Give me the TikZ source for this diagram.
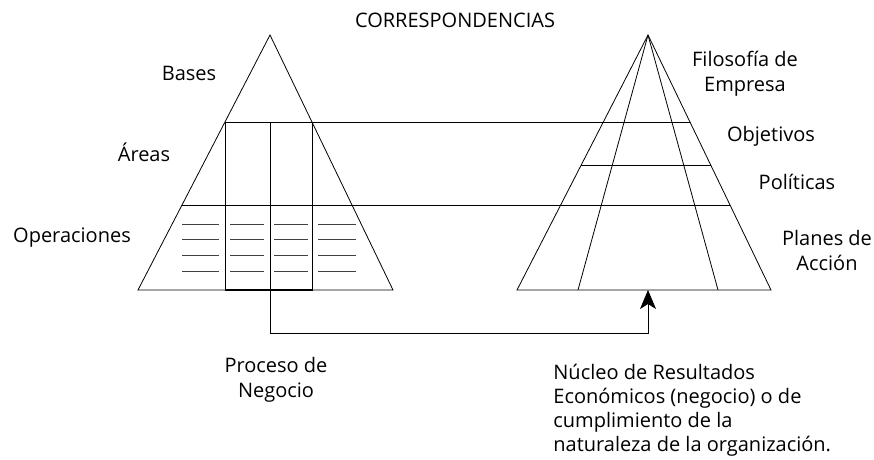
\documentclass[tikz,border=0pt]{standalone}
\usepackage{fontspec}
\setmainfont{Open Sans}
\usetikzlibrary{arrows.meta,calc}

\begin{document}
\begin{tikzpicture}[x=1pt,y=-1pt,line width=0.8pt,font=\fontsize{20}{25}\selectfont,
	lbl/.style={inner sep=0pt,align=center},
	raya/.style={black!75,line width=0.9pt}]
  \useasboundingbox (0,0) rectangle (874,459);

  \coordinate (A) at (270,35);
  \coordinate (B) at (138,290);
  \coordinate (C) at (393,290);
  \coordinate (D) at (648,35);
  \coordinate (E) at (517,290);
  \coordinate (F) at (771,290);
  \coordinate (G) at (578,290);
  \coordinate (H) at (718,290);
  \coordinate (I) at ($(A)!0.3412!(B)$);
  \coordinate (J) at ($(A)!0.3412!(C)$);
  \coordinate (K) at (A |- C);
  \coordinate (M) at (D |- C);

  \draw (A) -- (B) -- (C) -- cycle;
  \draw (D) -- (E) -- (F) -- cycle;
  \draw (D) -- (G)  (D) -- (H);

  \draw (I) -- ($(D)!0.3412!(F)$);
  \draw ($(A)!0.6667!(B)$) -- ($(D)!0.6667!(F)$);
  \draw ($(D)!0.5098!(E)$) -- ($(D)!0.5098!(F)$);

  \draw (I) rectangle (J |- C);
  \draw[line width=1.3pt] (I |- C) -- (J |- C);
  \draw (A |- I) -- (K);

  \foreach \y in {224,239,255,271}
	\foreach \a/\b in {182/219,230/264,274/308,318/356}
	  \draw[raya] (\a,\y) -- (\b,\y);

  \draw[-{Stealth[length=19pt,width=16pt,inset=5pt]}] (K) -- ++(0,43) -| (M);

  \node[lbl] (tit) at (455,20) 		{CORRESPONDENCIAS};
  \node[lbl] (bas) at (189,73) 		{Bases};
  \node[lbl] (are) at (144,152) 	{Áreas};
  \node[lbl] (ope) at (72,238) 		{Operaciones};
  \node[lbl] (fil) at (745,74) 		{Filosofía de\\Empresa};
  \node[lbl] (obj) at (771,136) 	{Objetivos};
  \node[lbl] (pol) at (797,182) 	{Políticas};
  \node[lbl] (pla) at (827,250) 	{Planes de\\Acción};
  \node[lbl] (pro) at (276,380) 	{Proceso de\\Negocio};
  \node[lbl,align=left,anchor=north west,font=\fontsize{20}{24}\selectfont] (nuc) at (553,364)
	{Núcleo de Resultados\\Económicos (negocio) o de\\cumplimiento de la\\naturaleza de la organización.};
\end{tikzpicture}
\end{document}
